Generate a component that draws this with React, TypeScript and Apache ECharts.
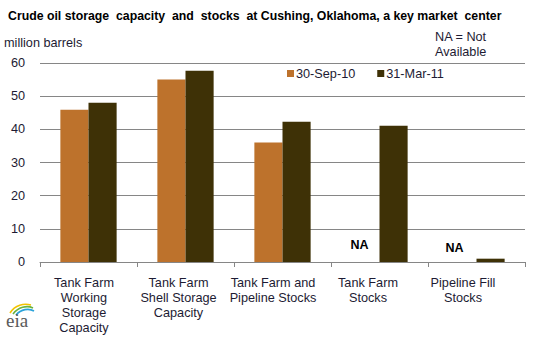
import React, { useEffect, useRef } from "react";
import * as echarts from "echarts";

const categories = [
  "Tank Farm\nWorking\nStorage\nCapacity",
  "Tank Farm\nShell Storage\nCapacity",
  "Tank Farm and\nPipeline Stocks",
  "Tank Farm\nStocks",
  "Pipeline Fill\nStocks",
];
const seriesNames = ["30-Sep-10", "31-Mar-11"];
const sep10: (number | null)[] = [45.9, 55.0, 36.0, null, null];
const mar11: number[] = [48.0, 57.7, 42.3, 41.1, 1.0];
const yTicks = { min: 0, max: 60, interval: 10 };

const ORANGE = "#BD722C";
const DARK = "#3E3106";
const TEXT = "#1d1b33";
const FONT = "Liberation Sans, Arial, sans-serif";
const FS = 12.7;

export default function App() {
  const ref = useRef<HTMLDivElement>(null);
  useEffect(() => {
    if (!ref.current) return;
    const chart = echarts.init(ref.current, undefined, { renderer: "svg" });
    const naOffsets = [
      [-6, 1],
      [-8, 4],
    ];
    let naIdx = 0;
    const sepData = sep10.map((v) => {
      if (v === null) {
        const off = naOffsets[naIdx++] || [0, 0];
        return {
          value: 0,
          label: {
            show: true,
            position: "top",
            formatter: "NA",
            fontWeight: "bold",
            fontSize: 12.5,
            fontFamily: FONT,
            color: "#000",
            distance: 12,
            offset: off,
          },
        };
      }
      return v;
    });
    // label shift (Excel-style compressed label positions)
    const labelPad = [9, 14, 19, 23, 27];
    const rich: Record<string, any> = {};
    labelPad.forEach((p, i) => {
      rich["c" + i] = {
        fontSize: FS,
        lineHeight: 15,
        color: TEXT,
        fontFamily: FONT,
        padding: [0, p, 0, 0],
      };
    });
    chart.setOption({
      animation: false,
      textStyle: { fontFamily: FONT },
      title: {
        text: "Crude oil storage  capacity  and  stocks  at Cushing, Oklahoma, a key market  center",
        left: 3,
        top: 5,
        textStyle: { fontSize: 12.3, fontWeight: "bold", color: "#000", fontFamily: FONT },
      },
      legend: {
        data: seriesNames,
        left: 282,
        top: 62,
        itemWidth: 7,
        itemHeight: 7,
        itemGap: 22,
        icon: "rect",
        textStyle: { fontSize: FS, color: TEXT, fontFamily: FONT, padding: [0, 0, 0, -3] },
      },
      grid: { left: 40, right: 13, top: 63, bottom: 78, containLabel: false },
      xAxis: {
        type: "category",
        data: categories,
        axisLine: { lineStyle: { color: "#868686", width: 1 } },
        axisTick: { show: true, length: 5, alignWithLabel: false, lineStyle: { color: "#868686" } },
        axisLabel: {
          interval: 0,
          fontSize: FS,
          lineHeight: 15,
          color: TEXT,
          margin: 13,
          fontFamily: FONT,
          formatter: (value: string, index: number) =>
            value
              .split("\n")
              .map((l) => `{c${index}|${l}}`)
              .join("\n"),
          rich,
        },
      },
      yAxis: {
        type: "value",
        min: yTicks.min,
        max: yTicks.max,
        interval: yTicks.interval,
        axisLine: { show: false },
        axisTick: { show: false },
        splitLine: { lineStyle: { color: "#868686", width: 1 } },
        axisLabel: { fontSize: FS, color: TEXT, margin: 15, fontFamily: FONT },
      },
      series: [
        {
          name: seriesNames[0],
          type: "bar",
          data: sepData,
          barGap: "0%",
          barCategoryGap: "42%",
          itemStyle: { color: ORANGE },
        },
        {
          name: seriesNames[1],
          type: "bar",
          data: mar11,
          itemStyle: { color: DARK },
        },
      ],
      graphic: [
        {
          type: "text",
          left: 4,
          top: 36,
          style: { text: "million barrels", fill: TEXT, font: `${FS}px ${FONT}` },
        },
        {
          type: "text",
          left: 435,
          top: 29,
          style: {
            text: "NA = Not\nAvailable",
            fill: TEXT,
            font: `${FS}px ${FONT}`,
            lineHeight: 15,
          },
        },
        {
          type: "bezierCurve",
          shape: { x1: 10, y1: 313, x2: 31, y2: 305, cpx1: 15, cpy1: 305, cpx2: 24, cpy2: 303 },
          style: { stroke: "#F2C300", lineWidth: 1.6, fill: null },
        },
        {
          type: "bezierCurve",
          shape: { x1: 13, y1: 314, x2: 33, y2: 308, cpx1: 18, cpy1: 307, cpx2: 27, cpy2: 305 },
          style: { stroke: "#6BB33F", lineWidth: 1.6, fill: null },
        },
        {
          type: "bezierCurve",
          shape: { x1: 16, y1: 315, x2: 34, y2: 311, cpx1: 21, cpy1: 309, cpx2: 29, cpy2: 308 },
          style: { stroke: "#2BA3DA", lineWidth: 1.6, fill: null },
        },
        {
          type: "text",
          left: 6,
          top: 311,
          style: {
            text: "eia",
            fill: "#5a5a5a",
            font: "19px Liberation Serif, DejaVu Serif, serif",
          },
        },
      ],
    });
    return () => chart.dispose();
  }, []);
  return <div ref={ref} style={{ width: 538, height: 340, position: "absolute", left: 0, top: 0 }} />;
}
